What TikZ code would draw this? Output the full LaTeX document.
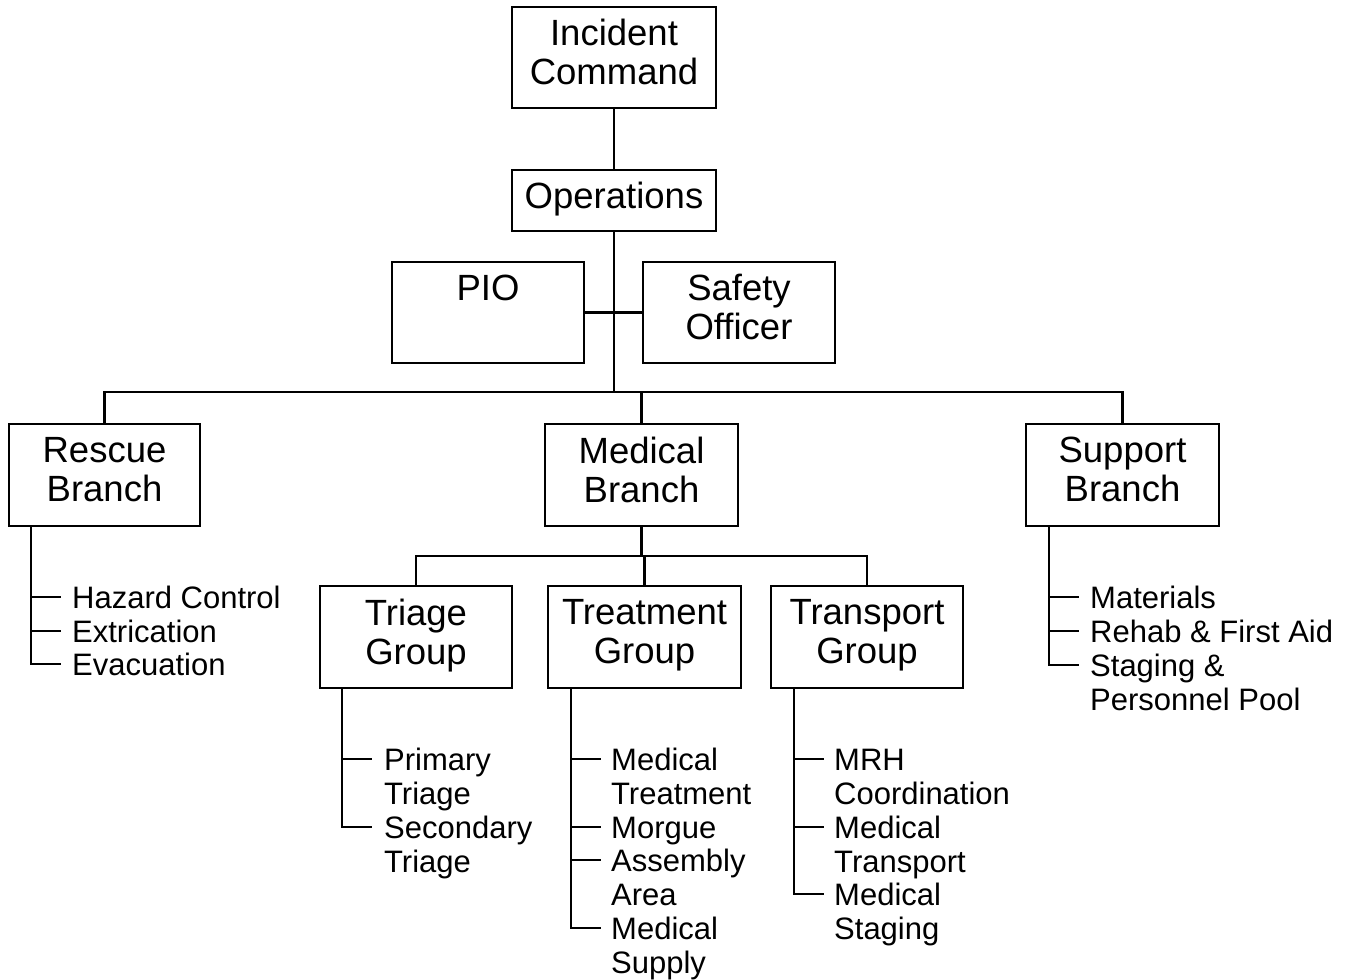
\documentclass[tikz,border=0pt]{standalone}
\usepackage{fontspec}
\setmainfont{Liberation Sans}
\begin{document}
\begin{tikzpicture}[x=1pt,y=-1pt, line width=2.4pt,
  box/.style={draw, align=center, inner sep=0pt, text depth=10.6pt, font=\fontsize{36.5}{39}\selectfont},
  item/.style={anchor=base west, align=left, inner sep=0pt, font=\fontsize{31}{34}\selectfont}]
\useasboundingbox (0,0) rectangle (1353,980);
% boxes
\node[box, minimum width=204, minimum height=101] (ic) at (614,57.5) {Incident\\Command};
\node[box, minimum width=204, minimum height=61] (ops) at (614,200.5) {Operations};
\node[box, minimum width=192, minimum height=101] (pio) at (488,312.5) {PIO\\\phantom{X}};
\node[box, minimum width=192, minimum height=101] (safety) at (739,312.5) {Safety\\Officer};
\node[box, minimum width=191, minimum height=102] (rescue) at (104.5,475) {Rescue\\Branch};
\node[box, minimum width=193, minimum height=102] (medical) at (641.5,475) {Medical\\Branch};
\node[box, minimum width=193, minimum height=102] (support) at (1122.5,475) {Support\\Branch};
\node[box, minimum width=192, minimum height=102] (triage) at (416,637) {Triage\\Group};
\node[box, minimum width=193, minimum height=102] (treatment) at (644.5,637) {Treatment\\Group};
\node[box, minimum width=192, minimum height=102] (transport) at (867,637) {Transport\\Group};
% upper connectors
\coordinate (bus) at (614,392);
\coordinate (mbus) at (641.5,556);
\draw (ic) -- (ops);
\draw (ops) -- (bus);
\draw (pio.east) -- (safety.west);
\draw (rescue.north) |- (bus);
\draw (support.north) |- (bus);
\draw (medical.north) -- (medical.north |- bus);
\draw (medical) -- (mbus);
\draw (triage.north) |- (mbus);
\draw (transport.north) |- (mbus);
\draw (treatment.north) -- (treatment.north |- mbus);
% Rescue list
\coordinate (rx) at (31,0);
\coordinate (r1) at (61,597); \coordinate (r2) at (61,631); \coordinate (r3) at (61,664);
\draw (rescue.south -| rx) |- (r3);
\draw (rx |- r1) -- (r1); \draw (rx |- r2) -- (r2);
\node[item] (hz) at (71,608) {Hazard Control};
\node[item] (ex) at (71,642) {Extrication};
\node[item] (ev) at (71,675) {Evacuation};
% Support list
\coordinate (sx) at (1049,0);
\coordinate (s1) at (1079,597); \coordinate (s2) at (1079,631); \coordinate (s3) at (1079,665);
\draw (support.south -| sx) |- (s3);
\draw (sx |- s1) -- (s1); \draw (sx |- s2) -- (s2);
\node[item] (ma) at (1089,608) {Materials};
\node[item] (rh) at (1089,642) {Rehab \& First Aid};
\node[item] (st) at (1089,710) {Staging \&\\Personnel Pool};
% Triage list
\coordinate (tx) at (342,0);
\coordinate (t1) at (372,759); \coordinate (t2) at (372,827);
\draw (triage.south -| tx) |- (t2);
\draw (tx |- t1) -- (t1);
\node[item] (pt) at (383,804) {Primary\\Triage};
\node[item] (sct) at (383,872) {Secondary\\Triage};
% Treatment list
\coordinate (mx) at (571,0);
\coordinate (m1) at (601,759); \coordinate (m2) at (601,827); \coordinate (m3) at (601,860); \coordinate (m4) at (601,928);
\draw (treatment.south -| mx) |- (m4);
\draw (mx |- m1) -- (m1); \draw (mx |- m2) -- (m2); \draw (mx |- m3) -- (m3);
\node[item] (mt) at (610,804) {Medical\\Treatment};
\node[item] (mo) at (610,838) {Morgue};
\node[item] (aa) at (610,905) {Assembly\\Area};
\node[item] (ms) at (610,973) {Medical\\Supply};
% Transport list
\coordinate (px) at (794,0);
\coordinate (p1) at (824,759); \coordinate (p2) at (824,827); \coordinate (p3) at (824,894);
\draw (transport.south -| px) |- (p3);
\draw (px |- p1) -- (p1); \draw (px |- p2) -- (p2);
\node[item] (mrh) at (833,804) {MRH\\Coordination};
\node[item] (mtr) at (833,872) {Medical\\Transport};
\node[item] (mst) at (833,939) {Medical\\Staging};
\end{tikzpicture}
\end{document}
